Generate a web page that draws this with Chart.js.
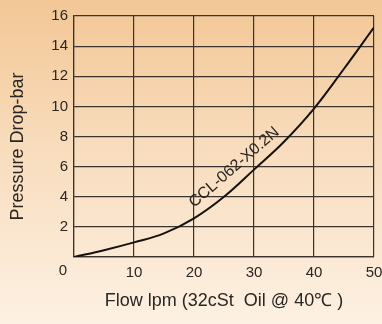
<!DOCTYPE html>
<html>
<head>
<meta charset="utf-8">
<script src="https://cdn.jsdelivr.net/npm/chart.js@4.4.1/dist/chart.umd.min.js"></script>
<style>
  html, body { margin: 0; padding: 0; }
  body {
    width: 382px; height: 324px; overflow: hidden;
    background: linear-gradient(to bottom, #f3c796 0%, #f8dcbc 45%, #fdf1e3 100%);
  }
  canvas { display: block; }
</style>
</head>
<body>
<canvas id="grafico" width="382" height="324"></canvas>
<script>
// Curva de caída de presión
const caudal = [0, 5, 10, 15, 20, 25, 30, 35, 40, 45, 50];
const presion = [0, 0.45, 0.97, 1.57, 2.57, 4.0, 5.8, 7.65, 9.85, 12.5, 15.25];
const modelo = "CCL-062-X0.2N";
const ticksX = [0, 10, 20, 30, 40, 50];
const ticksY = [0, 2, 4, 6, 8, 10, 12, 14, 16];

const fuente = "'Liberation Sans', Arial, sans-serif";
const colorTexto = "#2a2622";
const colorGrilla = "#3b342e";

// etiqueta del modelo sobre la curva y el "0" del origen
const etiquetas = {
    id: "etiquetas",
    afterDatasetsDraw(chart) {
        const ctx = chart.ctx;
        const x = chart.scales.x;
        const y = chart.scales.y;
        ctx.save();
        ctx.fillStyle = colorTexto;
        ctx.font = "16px " + fuente;
        ctx.translate(x.getPixelForValue(26.7), y.getPixelForValue(5.95));
        ctx.rotate(-41 * Math.PI / 180);
        ctx.textAlign = "center";
        ctx.textBaseline = "middle";
        ctx.fillText(modelo, 0, 0);
        ctx.restore();

        ctx.save();
        ctx.fillStyle = colorTexto;
        ctx.font = "15px " + fuente;
        ctx.textAlign = "center";
        ctx.textBaseline = "middle";
        ctx.fillText("0", x.left - 11, y.bottom + 14);
        ctx.restore();
    }
};

new Chart(document.getElementById("grafico"), {
    type: "line",
    data: {
        datasets: [{
            data: caudal.map((q, i) => ({ x: q, y: presion[i] })),
            borderColor: "#141210",
            borderWidth: 2,
            pointRadius: 0,
            tension: 0.4,
            fill: false
        }]
    },
    options: {
        responsive: false,
        animation: false,
        layout: { padding: { top: 16, right: 8, left: 0, bottom: 0 } },
        plugins: { legend: { display: false }, tooltip: { enabled: false } },
        scales: {
            x: {
                type: "linear",
                min: 0,
                max: 50,
                afterBuildTicks: a => { a.ticks = ticksX.map(v => ({ value: v })); },
                afterFit: a => { a.height = 67; a.paddingLeft = 0; a.paddingRight = 0; },
                grid: { color: colorGrilla, lineWidth: 1.2, drawTicks: false },
                border: { color: colorGrilla, width: 1.2 },
                ticks: {
                    padding: 7,
                    color: colorTexto,
                    font: { family: fuente, size: 15 },
                    maxRotation: 0,
                    callback: v => v === 0 ? "" : v
                },
                title: {
                    display: true,
                    text: "Flow lpm (32cSt  Oil @ 40\u2103 )",
                    color: colorTexto,
                    font: { family: fuente, size: 18 },
                    padding: { top: 0, bottom: 12 }
                }
            },
            y: {
                min: 0,
                max: 16,
                afterBuildTicks: a => { a.ticks = ticksY.map(v => ({ value: v })); },
                afterFit: a => { a.width = 74; a.paddingTop = 0; a.paddingBottom = 0; },
                grid: { color: colorGrilla, lineWidth: 1.2, drawTicks: false },
                border: { color: colorGrilla, width: 1.2 },
                ticks: {
                    padding: 6,
                    color: colorTexto,
                    font: { family: fuente, size: 15 },
                    callback: v => v === 0 ? "" : v
                },
                title: {
                    display: true,
                    text: "Pressure Drop-bar    ",
                    color: colorTexto,
                    font: { family: fuente, size: 18 },
                    padding: { top: 7, bottom: 0 }
                }
            }
        }
    },
    plugins: [etiquetas]
});
</script>
</body>
</html>
